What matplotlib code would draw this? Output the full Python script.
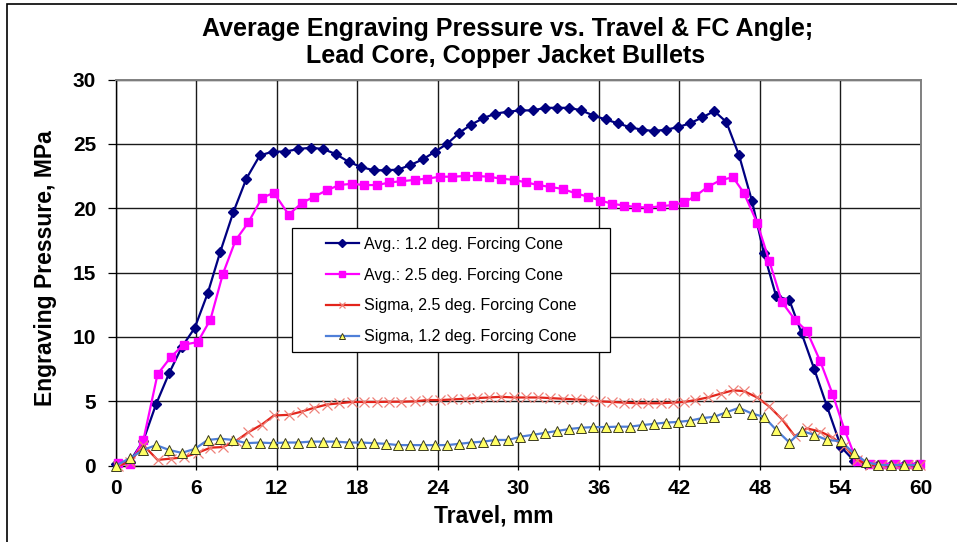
import matplotlib
matplotlib.use("Agg")
import matplotlib.pyplot as plt
from matplotlib.patches import Rectangle

plt.rcParams["font.family"] = ["Liberation Sans", "DejaVu Sans"]

# travel positions (mm) for the 1.2 deg. and 2.5 deg. forcing cone data sets
travel_12 = [0.0, 1.05, 2.05, 3.03, 4.0, 4.93, 5.9, 6.87, 7.8, 8.78, 9.75,
             10.75, 11.72, 12.66, 13.6, 14.55, 15.48, 16.42, 17.38, 18.3, 19.22,
             20.15, 21.05, 21.95, 22.9, 23.8, 24.7, 25.6, 26.5, 27.4, 28.3,
             29.25, 30.15, 31.1, 32.0, 32.9, 33.8, 34.7, 35.6, 36.5, 37.4,
             38.3, 39.2, 40.1, 41.0, 41.9, 42.8, 43.7, 44.6, 45.5, 46.45,
             47.4, 48.3, 49.2, 50.2, 51.1, 52.05, 53.0, 54.05, 55.0, 55.9,
             56.8, 57.75, 58.7, 59.7]
travel_25 = [0.2, 1.08, 2.08, 3.13, 4.13, 5.07, 6.12, 7.07, 8.0, 8.94, 9.9,
             10.9, 11.8, 12.9, 13.87, 14.8, 15.75, 16.67, 17.6, 18.5, 19.5,
             20.4, 21.3, 22.3, 23.2, 24.2, 25.1, 26.0, 26.9, 27.8, 28.7,
             29.7, 30.6, 31.5, 32.4, 33.3, 34.3, 35.2, 36.1, 37.0, 37.9,
             38.8, 39.7, 40.6, 41.5, 42.35, 43.2, 44.1, 45.1, 46.0, 46.8,
             47.8, 48.7, 49.65, 50.6, 51.5, 52.5, 53.4, 54.3, 55.2, 56.2,
             57.1, 58.1, 59.0, 59.9]

avg_12 = [0.1, 0.3, 1.9, 4.8, 7.2, 9.2, 10.7, 13.4, 16.6, 19.7, 22.3,
          24.1, 24.4, 24.4, 24.6, 24.7, 24.6, 24.2, 23.6, 23.2, 22.95,
          22.95, 23.0, 23.35, 23.8, 24.4, 25.0, 25.85, 26.5, 27.0, 27.35,
          27.5, 27.6, 27.6, 27.8, 27.8, 27.8, 27.6, 27.2, 26.9, 26.6,
          26.3, 26.1, 26.0, 26.1, 26.3, 26.6, 27.05, 27.55, 26.7, 24.1,
          20.6, 16.5, 13.2, 12.85, 10.3, 7.5, 4.6, 1.45, 0.4, 0.1,
          0.05, 0.05, 0.05, 0.05]
avg_25 = [0.2, 0.15, 2.0, 7.1, 8.45, 9.4, 9.6, 11.35, 14.9, 17.5, 18.9,
          20.8, 21.2, 19.5, 20.4, 20.9, 21.4, 21.8, 21.9, 21.8, 21.8,
          22.0, 22.1, 22.2, 22.3, 22.45, 22.45, 22.5, 22.5, 22.45, 22.3,
          22.2, 22.0, 21.8, 21.65, 21.5, 21.15, 20.9, 20.6, 20.35, 20.2,
          20.1, 20.05, 20.15, 20.25, 20.45, 20.95, 21.65, 22.2, 22.4, 21.2,
          18.85, 15.9, 12.7, 11.35, 10.45, 8.1, 5.6, 2.8, 0.4, 0.15,
          0.15, 0.15, 0.15, 0.15]
sigma_25 = [0.0, 0.3, 1.6, 0.45, 0.55, 0.65, 1.0, 1.4, 1.45, 1.9, 2.6,
            3.2, 3.9, 3.95, 4.2, 4.5, 4.75, 4.85, 4.95, 4.95, 4.95,
            4.97, 4.97, 5.0, 5.1, 5.1, 5.15, 5.2, 5.25, 5.3, 5.35,
            5.3, 5.3, 5.3, 5.25, 5.2, 5.15, 5.1, 5.0, 4.95, 4.9,
            4.85, 4.85, 4.85, 4.9, 4.95, 5.1, 5.3, 5.6, 5.85, 5.8,
            5.3, 4.6, 3.6, 2.3, 2.9, 2.65, 2.2, 1.5, 0.45, 0.05,
            0.02, 0.02, 0.02, 0.02]
sigma_12 = [0.0, 0.57, 1.22, 1.6, 1.22, 1.0, 1.3, 2.0, 2.1, 2.0, 1.75,
            1.8, 1.75, 1.8, 1.8, 1.87, 1.87, 1.87, 1.8, 1.8, 1.75,
            1.7, 1.6, 1.6, 1.6, 1.6, 1.6, 1.7, 1.8, 1.87, 2.0,
            2.0, 2.25, 2.4, 2.55, 2.7, 2.85, 2.95, 3.0, 3.0, 3.03,
            3.03, 3.15, 3.25, 3.35, 3.4, 3.5, 3.7, 3.8, 4.15, 4.5,
            4.05, 3.8, 2.8, 1.8, 2.7, 2.4, 2.0, 1.9, 0.95, 0.3,
            0.05, 0.05, 0.05, 0.05]

x_ticks = list(range(0, 61, 6))
y_ticks = list(range(0, 31, 5))

W, H = 957, 542
fig = plt.figure(figsize=(W / 100, H / 100), dpi=100)
ax = fig.add_axes([115.5 / W, 1 - 465.7 / H, (921 - 115.5) / W, (465.7 - 79.5) / H])

ax.plot(travel_12, avg_12, color="#000080", lw=1.6, marker="D", ms=5.3,
        clip_on=False, zorder=3, label="Avg.: 1.2 deg. Forcing Cone")
ax.plot(travel_25, avg_25, color="#FF00FF", lw=1.6, marker="s", ms=6,
        clip_on=False, zorder=3, label="Avg.: 2.5 deg. Forcing Cone")
ax.plot(travel_25, sigma_25, color="#E3241B", lw=1.6, marker="x", ms=7,
        mec="#EE8078", mew=0.9, clip_on=False, zorder=3,
        label="Sigma, 2.5 deg. Forcing Cone")
ax.plot(travel_12, sigma_12, color="#4F7FD8", lw=1.6, marker="^", ms=6.8,
        mfc="#FFFF66", mec="#3A3A20", mew=0.7, clip_on=False, zorder=3,
        label="Sigma, 1.2 deg. Forcing Cone")

ax.set_xlim(0, 60)
ax.set_ylim(0, 30)
ax.set_xticks(x_ticks)
ax.set_yticks(y_ticks)
ax.grid(True, color="#1a1a1a", lw=1.0)
ax.set_axisbelow(True)
for lab in ax.get_xticklabels() + ax.get_yticklabels():
    lab.set_fontweight("bold")
ax.tick_params(axis="x", labelsize=15, length=3, width=0.9, pad=6.5, direction="out")
ax.tick_params(axis="y", labelsize=15, length=5.5, width=0.9, pad=8.5, direction="out")
for side in ("left", "bottom"):
    ax.spines[side].set_color("black")
    ax.spines[side].set_linewidth(1.0)
for side in ("top", "right"):
    ax.spines[side].set_color("#808080")
    ax.spines[side].set_linewidth(1.4)

# legend box drawn separately so the padding matches the original
box = Rectangle((292 / W, 1 - 352 / H), (610 - 292) / W, (352 - 228) / H,
                transform=fig.transFigure, facecolor="white", edgecolor="black",
                lw=0.9, zorder=4)
ax.add_patch(box)
leg = ax.legend(loc="center", bbox_to_anchor=(451 / W, 1 - 290.5 / H),
                bbox_transform=fig.transFigure, frameon=False, fontsize=11.5,
                handlelength=2.1, handletextpad=0.3, labelspacing=1.0,
                markerscale=0.7)
leg.set_zorder(5)

fig.text(508 / W, 1 - 36 / H, "Average Engraving Pressure vs. Travel & FC Angle;",
         ha="center", va="baseline", fontsize=18, fontweight="bold")
fig.text(506 / W, 1 - 63.3 / H, "Lead Core, Copper Jacket Bullets",
         ha="center", va="baseline", fontsize=18, fontweight="bold")
fig.text(493.5 / W, 1 - 523 / H, "Travel, mm", ha="center", va="baseline",
         fontsize=16.5, fontweight="bold")
fig.text(46 / W, 1 - 268 / H, "Engraving Pressure, MPa", rotation=90,
         ha="center", va="center", fontsize=16.5, fontweight="bold")

# outer chart frame (only the left and top edges fall inside the image)
fig.patches.append(Rectangle((7 / W, -0.1), 1.2, 1.1 - 4 / H,
                             transform=fig.transFigure, fill=False,
                             edgecolor="black", lw=1.2))

fig.savefig("out.png", dpi=100)
